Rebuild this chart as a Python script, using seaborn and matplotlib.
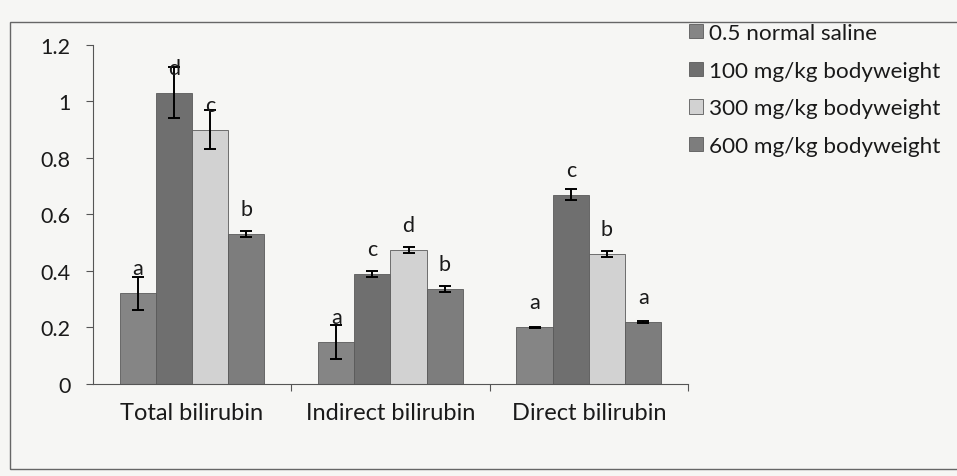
import matplotlib
matplotlib.use("Agg")
import matplotlib.pyplot as plt
import matplotlib.ticker as mticker
from matplotlib.patches import Rectangle
import pandas as pd
import seaborn as sns

OUTPUT_FILE = "out.png"

# data
CATEGORIES = ["Total bilirubin", "Indirect bilirubin", "Direct bilirubin"]
GROUPS = ["0.5 normal saline", "100 mg/kg bodyweight",
          "300 mg/kg bodyweight", "600 mg/kg bodyweight"]
MEANS = {
    "0.5 normal saline": [0.32, 0.15, 0.20],
    "100 mg/kg bodyweight": [1.03, 0.39, 0.67],
    "300 mg/kg bodyweight": [0.90, 0.475, 0.46],
    "600 mg/kg bodyweight": [0.53, 0.335, 0.22],
}
ERRORS = {
    "0.5 normal saline": [0.06, 0.06, 0.003],
    "100 mg/kg bodyweight": [0.09, 0.01, 0.02],
    "300 mg/kg bodyweight": [0.07, 0.01, 0.01],
    "600 mg/kg bodyweight": [0.01, 0.01, 0.003],
}
LETTERS = {
    "0.5 normal saline": ["a", "a", "a"],
    "100 mg/kg bodyweight": ["d", "c", "c"],
    "300 mg/kg bodyweight": ["c", "d", "b"],
    "600 mg/kg bodyweight": ["b", "b", "a"],
}
COLORS = ["#858585", "#6f6f6f", "#d2d2d2", "#7d7d7d"]
Y_TICKS = [0, 0.2, 0.4, 0.6, 0.8, 1.0, 1.2]

rows = []
for g in GROUPS:
    for cat, v in zip(CATEGORIES, MEANS[g]):
        rows.append({"category": cat, "group": g, "value": v})
df = pd.DataFrame(rows)

sns.set_style("white")
plt.rcParams["font.family"] = ["Lato", "DejaVu Sans"]
bg = "#f6f6f4"
txt = "#1a1a1a"

fig = plt.figure(figsize=(9.57, 4.77), dpi=100, facecolor=bg)
ax = fig.add_axes([0.097, 0.193, 0.622, 0.711])
ax.set_facecolor(bg)

sns.barplot(data=df, x="category", y="value", hue="group", order=CATEGORIES,
            hue_order=GROUPS, palette=COLORS, width=0.73, gap=0,
            edgecolor="#5a5a5a", linewidth=0.6, errorbar=None, ax=ax)

# error bars and significance letters on top of each bar
for g, cont in zip(GROUPS, ax.containers):
    for bar, err, letter in zip(cont, ERRORS[g], LETTERS[g]):
        x = bar.get_x() + bar.get_width() / 2
        h = bar.get_height()
        ax.errorbar(x, h, yerr=err, color="black", capsize=4, lw=1.4,
                    capthick=1.4)
        ax.annotate(letter, (x, h), xytext=(0, 18), textcoords="offset points",
                    ha="center", va="center", fontsize=15.5, color=txt)

ax.set_ylim(0, 1.2)
ax.set_xlim(-0.5, 2.5)
ax.set_yticks(Y_TICKS)
ax.yaxis.set_major_formatter(mticker.FuncFormatter(lambda v, p: f"{v:g}"))
ax.set_xlabel("")
ax.set_ylabel("")
ax.tick_params(axis="y", left=True, length=5, width=0.8, color="#555555",
               labelsize=15.5, pad=11, labelcolor=txt)
ax.tick_params(axis="x", which="major", length=0, labelsize=17, pad=13,
               labelcolor=txt)
ax.set_xticks([0.5, 1.5, 2.5], minor=True)
ax.tick_params(axis="x", which="minor", bottom=True, length=5, width=0.8,
               color="#555555")
sns.despine(ax=ax)
for s in ["left", "bottom"]:
    ax.spines[s].set_color("#555555")
    ax.spines[s].set_linewidth(0.8)

ax.legend(loc="upper left", bbox_to_anchor=(0.711, 0.968),
          bbox_transform=fig.transFigure, frameon=False, fontsize=16.2,
          handlelength=0.6, handleheight=0.6, handletextpad=0.25,
          labelspacing=0.78, labelcolor=txt, borderaxespad=0)

# outer chart border
fig.add_artist(Rectangle((0.0105, 0.0147), 1.2, 0.937,
                         transform=fig.transFigure, fill=False,
                         edgecolor="#666666", lw=1.0))

plt.savefig(OUTPUT_FILE, dpi=100, facecolor=bg)
